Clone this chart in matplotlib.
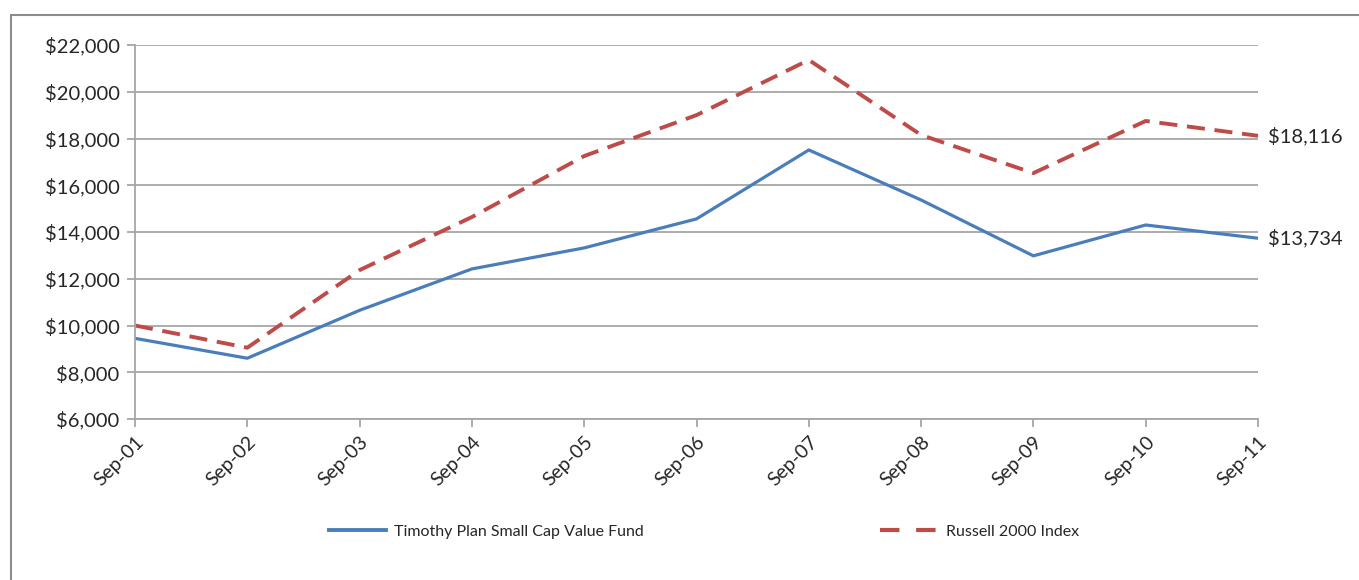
import numpy as np
import matplotlib.pyplot as plt
import matplotlib.patches as mpatches
from matplotlib.lines import Line2D

plt.rcParams["font.family"] = ["Lato", "DejaVu Sans"]
plt.rcParams["lines.scale_dashes"] = False

# DATOS

fechas = ["Sep-01", "Sep-02", "Sep-03", "Sep-04", "Sep-05", "Sep-06",
          "Sep-07", "Sep-08", "Sep-09", "Sep-10", "Sep-11"]
fondo = [9450, 8600, 10650, 12420, 13320, 14560, 17510, 15370, 12980, 14300, 13734]
russell = [10000, 9050, 12370, 14640, 17250, 19000, 21360, 18150, 16520, 18750, 18116]

nombre_fondo = "Timothy Plan Small Cap Value Fund"
nombre_russell = "Russell 2000 Index"

azul = "#4a7ebb"
rojo = "#be4b48"
gris = "#a6a6a6"
texto = "#262626"

fig = plt.figure(figsize=(13.59, 5.8), dpi=100)
ax = fig.add_axes([135 / 1359, 1 - 419 / 580, (1258 - 135) / 1359, (419 - 45) / 580])

# marco exterior
marco = mpatches.Rectangle((11 / 1359, -0.1), 1.2, 1 - 15 / 580 + 0.1,
                           transform=fig.transFigure, fill=False,
                           edgecolor="#8c8c8c", linewidth=1.5, clip_on=False)
fig.patches.append(marco)

x = np.arange(len(fechas))
l1, = ax.plot(x, fondo, color=azul, linewidth=2.3, label=nombre_fondo)
l2, = ax.plot(x, russell, color=rojo, linewidth=2.8, dashes=(13, 7), label=nombre_russell)

ax.set_xlim(0, len(fechas) - 1)
ax.set_ylim(6000, 22000)
ax.set_yticks(np.arange(6000, 22001, 2000))
ax.set_yticklabels([f"${v:,.0f}" for v in np.arange(6000, 22001, 2000)], fontsize=14.5)
ax.set_xticks(x)
ax.set_xticklabels(fechas, rotation=45, ha="right", rotation_mode="anchor", fontsize=14)

ax.grid(axis="y", color=gris, linewidth=1.3)
ax.set_axisbelow(True)
for lado in ["top", "right"]:
    ax.spines[lado].set_visible(False)
for lado in ["left", "bottom"]:
    ax.spines[lado].set_color(gris)
    ax.spines[lado].set_linewidth(1.3)
ax.tick_params(axis="both", color=gris, width=1.3, length=6, labelcolor=texto)
ax.tick_params(axis="y", pad=5)
ax.tick_params(axis="x", pad=4)

# valores finales
for valor in [russell[-1], fondo[-1]]:
    ax.annotate(f"${valor:,.0f}", xy=(x[-1], valor), xytext=(7, 0),
                textcoords="offset points", va="center", fontsize=14.5, color=texto,
                annotation_clip=False)

# leyenda (la serie punteada con dos trazos, como en el original)
h1 = Line2D([], [], color=azul, linewidth=2.8)
h2 = Line2D([], [], color=rojo, linewidth=3.0, dashes=(14, 12))
fig.legend(handles=[h1, h2], labels=[nombre_fondo, nombre_russell], loc="center",
           bbox_to_anchor=(0.518, 1 - 532 / 580), ncol=2, frameon=False,
           fontsize=11.5, columnspacing=14.8, handlelength=3.6,
           handletextpad=0.5, labelcolor=texto)

fig.savefig("out.png", dpi=100)
